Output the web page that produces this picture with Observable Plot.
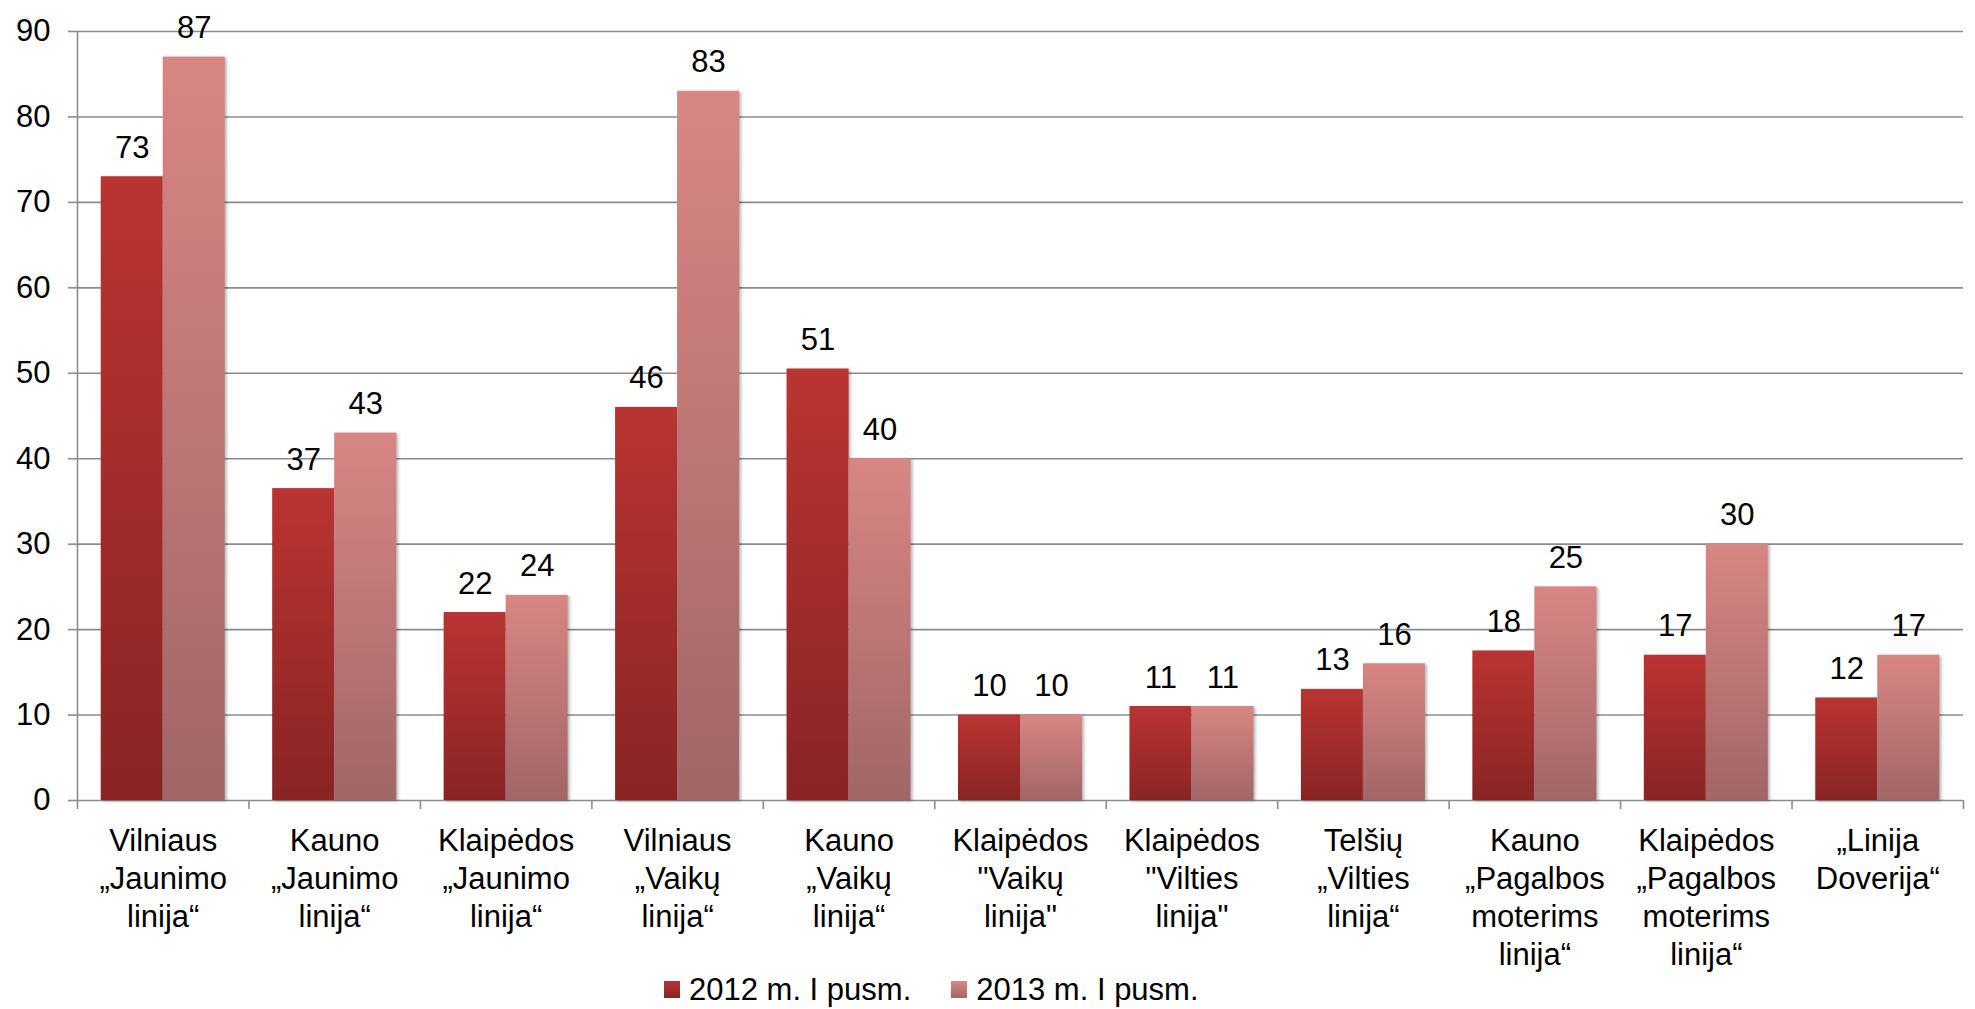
<!DOCTYPE html>
<html>
<head>
<meta charset="utf-8">
<script src="https://cdn.jsdelivr.net/npm/d3@7"></script>
<script src="https://cdn.jsdelivr.net/npm/@observablehq/plot@0.6"></script>
<style>
  html, body { margin: 0; padding: 0; background: #fff; }
  body { width: 1975px; height: 1009px; overflow: hidden; font-family: "Liberation Sans", Arial, sans-serif; }
  #chart svg { display: block; overflow: visible; }
  g[aria-label^="x-axis"] line, g[aria-label^="x-axis"] path,
  g[aria-label^="y-axis"] line, g[aria-label^="y-axis"] path { stroke: #8c8c8c; stroke-width: 1.6; }
  g[aria-label^="x-axis"] path.domain, g[aria-label^="y-axis"] path.domain { display: none; }
  .bars rect { filter: drop-shadow(2px 1px 1.5px rgba(0,0,0,0.28)); }
  #legend { display: flex; align-items: center; margin-left: 664px; height: 39px; font-size: 31px; color: #000; }
  #legend .item { display: flex; align-items: center; margin-right: 40px; }
  #legend .sw { width: 16px; height: 17px; margin-right: 9px; }
</style>
</head>
<body>
<div id="chart"></div>
<div id="legend"></div>
<script>
const categories = [
  "Vilniaus\n„Jaunimo\nlinija“",
  "Kauno\n„Jaunimo\nlinija“",
  "Klaipėdos\n„Jaunimo\nlinija“",
  "Vilniaus\n„Vaikų\nlinija“",
  "Kauno\n„Vaikų\nlinija“",
  "Klaipėdos\n\"Vaikų\nlinija\"",
  "Klaipėdos\n\"Vilties\nlinija\"",
  "Telšių\n„Vilties\nlinija“",
  "Kauno\n„Pagalbos\nmoterims\nlinija“",
  "Klaipėdos\n„Pagalbos\nmoterims\nlinija“",
  "„Linija\nDoverija“"
];
const values2012 = [73, 36.5, 22, 46, 50.5, 10, 11, 13, 17.5, 17, 12];
const values2013 = [87, 43, 24, 83, 40, 10, 11, 16, 25, 30, 17];
const seriesNames = ["2012 m. I pusm.", "2013 m. I pusm."];
const yTicks = [0, 10, 20, 30, 40, 50, 60, 70, 80, 90];

const colors = {
  g2012: ["#b93432", "#892424"],
  g2013: ["#d88684", "#a16666"]
};

const rows = categories.map((c, i) => ({i, c, a: values2012[i], b: values2013[i]}));
const bw = 0.3616; // bar width as fraction of a category band
const gridColor = "#8c8c8c";

const plot = Plot.plot({
  width: 1975,
  height: 970,
  marginLeft: 77,
  marginRight: 12,
  marginTop: 31,
  marginBottom: 170,
  style: {fontFamily: "'Liberation Sans', Arial, sans-serif", fontSize: "31px", color: "#000", background: "#fff"},
  x: {domain: [0, categories.length], ticks: d3.range(categories.length + 1), tickFormat: () => "", tickSize: 9, label: null},
  y: {domain: [0, 90], ticks: yTicks, tickSize: 9, tickPadding: 18, label: null},
  marks: [
    Plot.ruleY(yTicks, {stroke: gridColor, strokeWidth: 1.6}),
    Plot.ruleX([0], {stroke: gridColor, strokeWidth: 1.6}),
    Plot.rect(rows, {x1: d => d.i + 0.5 - bw, x2: d => d.i + 0.5, y1: 0, y2: "a", fill: "url(#g2012)", className: "bars"}),
    Plot.rect(rows, {x1: d => d.i + 0.5, x2: d => d.i + 0.5 + bw, y1: 0, y2: "b", fill: "url(#g2013)", className: "bars"}),
    Plot.text(rows, {x: d => d.i + 0.5 - bw / 2, y: "a", text: d => String(Math.round(d.a)), lineAnchor: "bottom", dy: -19, fill: "#000", fontSize: 31}),
    Plot.text(rows, {x: d => d.i + 0.5 + bw / 2, y: "b", text: d => String(Math.round(d.b)), lineAnchor: "bottom", dy: -19, fill: "#000", fontSize: 31}),
    Plot.text(rows, {x: d => d.i + 0.5, y: 0, text: "c", lineAnchor: "top", dy: 24, lineHeight: 1.22, fill: "#000", fontSize: 31})
  ]
});

// gradients (per bar, top to bottom)
const defs = d3.select(plot).insert("defs", ":first-child");
for (const [id, [top, bottom]] of Object.entries(colors)) {
  const g = defs.append("linearGradient").attr("id", id).attr("x1", 0).attr("y1", 0).attr("x2", 0).attr("y2", 1);
  g.append("stop").attr("offset", "0%").attr("stop-color", top);
  g.append("stop").attr("offset", "100%").attr("stop-color", bottom);
}
document.getElementById("chart").appendChild(plot);

const legend = d3.select("#legend");
seriesNames.forEach((name, k) => {
  const [top, bottom] = Object.values(colors)[k];
  const item = legend.append("div").attr("class", "item");
  item.append("div").attr("class", "sw").style("background", `linear-gradient(${top}, ${bottom})`);
  item.append("span").text(name);
});
</script>
</body>
</html>
